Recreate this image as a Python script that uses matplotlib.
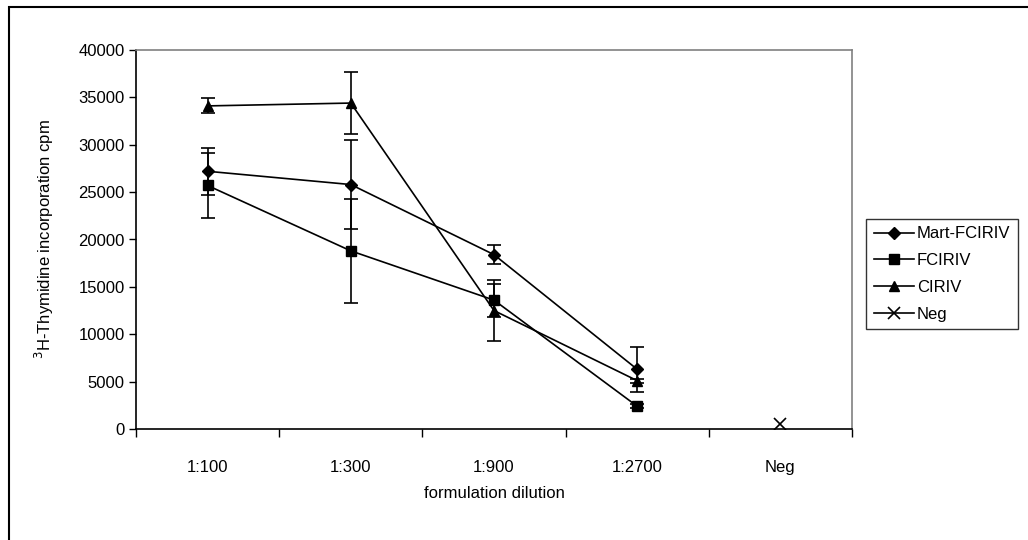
import matplotlib
matplotlib.use("Agg")
import matplotlib.pyplot as plt
from matplotlib.lines import Line2D
from matplotlib.patches import Rectangle

plt.rcParams['font.family'] = ['Liberation Sans', 'DejaVu Sans']

dilutions = ["1:100", "1:300", "1:900", "1:2700", "Neg"]

mart_fciriv = [27200, 25800, 18400, 6300]
mart_fciriv_err = [2500, 4700, 1000, 2400]
fciriv = [25700, 18800, 13600, 2400]
fciriv_err = [3400, 5500, 1750, 200]
ciriv = [34100, 34400, 12500, 5100]
ciriv_err = [800, 3300, 3200, 200]
neg = [500]

FS = 12

fig = plt.figure(figsize=(10.28, 5.4), dpi=100)
ax = fig.add_axes([136/1028, 111/540, 716/1028, 379/540])

x4 = list(range(4))
series = [
    ("Mart-FCIRIV", mart_fciriv, mart_fciriv_err, "D", 6),
    ("FCIRIV", fciriv, fciriv_err, "s", 7),
    ("CIRIV", ciriv, ciriv_err, "^", 7.5),
]
handles = []
for name, vals, err, mk, ms in series:
    ax.errorbar(x4, vals, yerr=err, color="black", lw=1.2, marker=mk, ms=ms,
                elinewidth=1.2, capsize=5, capthick=1.2)
    handles.append(Line2D([], [], color="black", lw=1.2, marker=mk, ms=ms,
                          label=name))
ax.plot([4], neg, color="black", lw=1.2, marker="x", ms=8, mew=1.2,
        linestyle="none")
handles.append(Line2D([], [], color="black", lw=1.2, marker="x", ms=8,
                      mew=1.2, label="Neg"))

ax.set_xlim(-0.5, 4.5)
ax.set_ylim(0, 40000)
ax.set_yticks(range(0, 40001, 5000))
ax.set_xticks(range(5))
ax.set_xticklabels(dilutions)
ax.set_xticks([i - 0.5 for i in range(6)], minor=True)
ax.tick_params(axis="x", which="major", length=0, pad=22, labelsize=FS)
ax.tick_params(axis="x", which="minor", length=6, width=1, direction="out")
ax.tick_params(axis="y", length=5, width=1, direction="out", labelsize=FS, pad=3)

for s in ("top", "right"):
    ax.spines[s].set_color("#808080")
    ax.spines[s].set_linewidth(1.2)
for s in ("left", "bottom"):
    ax.spines[s].set_color("black")
    ax.spines[s].set_linewidth(1.2)

ax.set_xlabel("formulation dilution", fontsize=FS, labelpad=8)
ax.set_ylabel("$^{3}$H-Thymidine incorporation cpm", fontsize=FS, labelpad=16)

leg = ax.legend(handles=handles, loc="center left",
                bbox_to_anchor=(866/1028, 1 - 274/540),
                bbox_transform=fig.transFigure, frameon=True, fancybox=False,
                fontsize=FS, handlelength=2.4, handletextpad=0.2,
                borderpad=0.45, labelspacing=0.7, borderaxespad=0)
leg.get_frame().set_edgecolor("black")
leg.get_frame().set_linewidth(1)

# outer chart frame
fig.patches.append(Rectangle((9/1028, -0.1), 1.2, (533 + 54)/540,
                             transform=fig.transFigure, fill=False,
                             edgecolor="black", lw=1.5))

fig.savefig("out.png", dpi=100)
